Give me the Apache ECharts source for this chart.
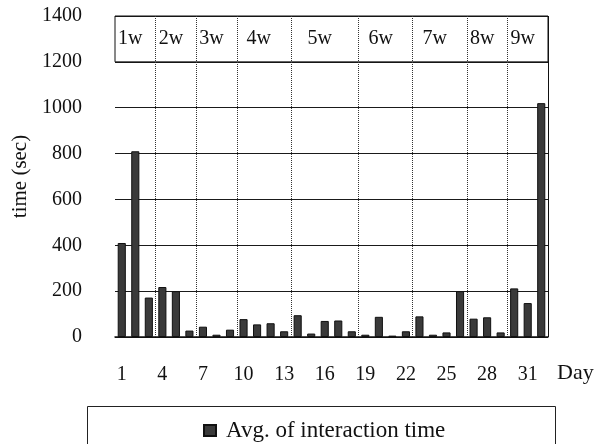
<!DOCTYPE html>
<html>
<head>
<meta charset="utf-8">
<script src="https://cdn.jsdelivr.net/npm/echarts@6/dist/echarts.min.js"></script>
<style>html,body{margin:0;padding:0;background:#fff}#c{width:601px;height:444px}</style>
</head>
<body>
<div id="c"></div>
<script>
// ---- data ----
const days = ['1','2','3','4','5','6','7','8','9','10','11','12','13','14','15','16','17','18','19','20','21','22','23','24','25','26','27','28','29','30','31','32'];
const avgInteractionTime = [410, 810, 172, 218, 200, 28, 45, 10, 32, 78, 55, 60, 25, 95, 15, 70, 72, 25, 10, 88, 6, 25, 90, 10, 20, 200, 80, 86, 20, 212, 148, 1020];
const weekLabels = ['1w','2w','3w','4w','5w','6w','7w','8w','9w'];
const weekBounds = [0, 3, 6, 9, 13, 18, 22, 26, 29, 32];
const yTicks = [0, 200, 400, 600, 800, 1000, 1200, 1400];

const FONT = '"Liberation Serif", "DejaVu Serif", serif';
const chart = echarts.init(document.getElementById('c'), null, {renderer: 'canvas'});

const cells = weekLabels.map((w, i) => [
  {xAxis: weekBounds[i], yAxis: yTicks[6], name: w},
  {xAxis: weekBounds[i + 1], yAxis: yTicks[7]}
]);
const outline = [
  {xAxis: weekBounds[0], yAxis: yTicks[6], name: '', itemStyle: {color: 'rgba(0,0,0,0)', borderColor: '#111', borderWidth: 1}},
  {xAxis: weekBounds[weekBounds.length - 1], yAxis: yTicks[7]}
];
const sepLines = weekBounds.slice(1, -1).map(b => ({xAxis: b}));
sepLines.push({xAxis: weekBounds[weekBounds.length - 1], lineStyle: {type: 'solid', color: '#111', width: 1}});

chart.setOption({
  animation: false,
  grid: {left: 115, right: 53, top: 16, bottom: 107, containLabel: false},
  legend: {
    data: ['Avg. of interaction time'],
    left: 198, top: 414,
    icon: 'rect', itemWidth: 12, itemHeight: 11, itemGap: 6,
    textStyle: {fontFamily: FONT, fontSize: 23, color: '#111', padding: [0, 0, 0, 5]}
  },
  graphic: [
    {type: 'rect', shape: {x: 87.5, y: 406.5, width: 468, height: 60}, style: {fill: 'none', stroke: '#222', lineWidth: 1}, silent: true},
    {type: 'text', left: 557, top: 362, style: {text: 'Day', fontFamily: FONT, fontSize: 22, fill: '#111'}}
  ],
  xAxis: [
    {
      type: 'category', data: days,
      axisLine: {show: true, lineStyle: {color: '#111', width: 1.5}},
      axisTick: {show: false},
      axisLabel: {interval: 2, margin: 28, fontFamily: FONT, fontSize: 20, color: '#111'},
      splitLine: {show: false}
    },
    {type: 'value', min: weekBounds[0], max: weekBounds[weekBounds.length - 1], show: false}
  ],
  yAxis: {
    type: 'value', min: 0, max: 1400, interval: 200,
    name: 'time (sec)', nameLocation: 'middle', nameGap: 78, nameRotate: 90,
    nameTextStyle: {fontFamily: FONT, fontSize: 21, color: '#111'},
    axisLine: {show: false}, axisTick: {show: false},
    axisLabel: {margin: 33, fontFamily: FONT, fontSize: 20, color: '#111', formatter: v => String(v)},
    splitLine: {show: true, lineStyle: {color: '#1a1a1a', width: 1.2}}
  },
  series: [
    {
      name: 'Avg. of interaction time', type: 'bar', xAxisIndex: 0,
      data: avgInteractionTime, barWidth: '60%',
      itemStyle: {color: '#3a3a3a', borderColor: '#111', borderWidth: 1}
    },
    {
      name: 'weeks', type: 'line', xAxisIndex: 1, data: [], silent: true,
      markLine: {
        silent: true, symbol: 'none', label: {show: false},
        lineStyle: {type: 'dotted', color: '#333', width: 1},
        data: sepLines
      },
      markArea: {
        silent: true,
        itemStyle: {color: 'rgba(0,0,0,0)'},
        label: {show: true, position: 'inside', offset: [-5, 0], fontFamily: FONT, fontSize: 20, color: '#111'},
        data: cells.concat([outline])
      }
    }
  ]
});
</script>
</body>
</html>
